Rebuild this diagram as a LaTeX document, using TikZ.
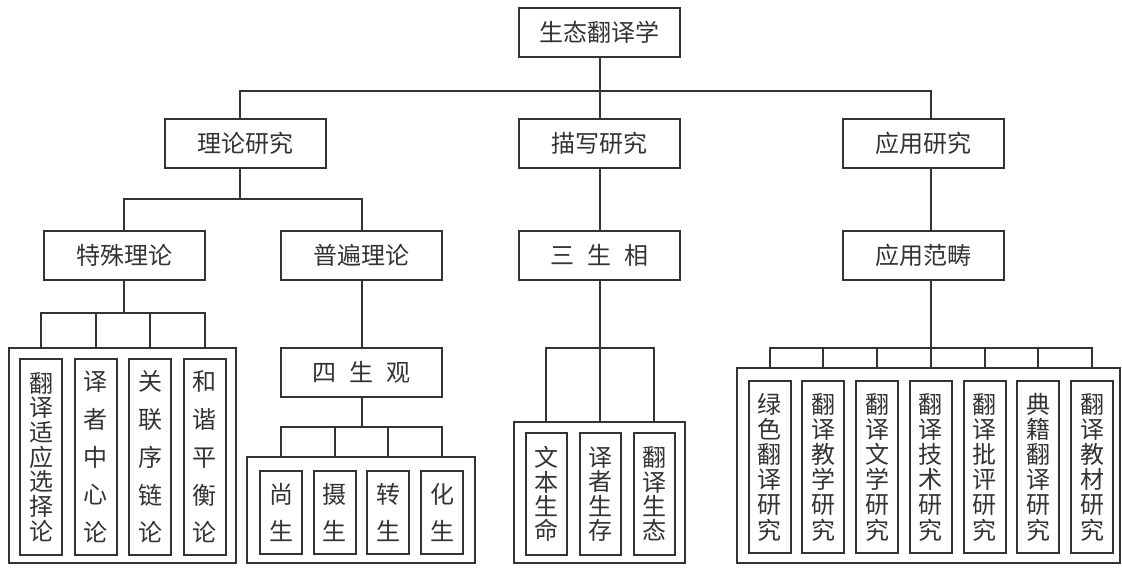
\documentclass[tikz,border=0pt]{standalone}
\usepackage{fontspec}
\newfontfamily\cjk{Noto Sans CJK SC}
\definecolor{lngray}{RGB}{51,51,51}
\usetikzlibrary{positioning}

\begin{document}
\begin{tikzpicture}[x=1pt,y=-1pt,
  hbox/.style={draw=lngray,line width=2pt,minimum width=161,minimum height=49,inner sep=0,
    text=lngray,font=\cjk\fontsize{24}{24}\selectfont},
  grp/.style={draw=lngray,line width=2pt,inner sep=0},
  vbox/.style={draw=lngray,line width=2pt,minimum width=42,inner sep=0,align=center,text=lngray},
  link/.style={draw=lngray,line width=2pt}
]
  \useasboundingbox (0,0) rectangle (1122,570);
  % top levels
  \node[hbox] (root) at (599.5,32) {生态翻译学};
  \node[hbox] (ll) at (245.5,143) {理论研究};
  \node[hbox] (mx) at (599.5,143) {描写研究};
  \node[hbox] (yy) at (923,143) {应用研究};
  \node[hbox] (ts) at (124,255) {特殊理论};
  \node[hbox] (pb) at (361.5,255) {普遍理论};
  \node[hbox] (ss) at (599.5,255) {三\hspace*{.55em}生\hspace*{.55em}相};
  \node[hbox] (fc) at (923,255) {应用范畴};
  \node[hbox] (sg) at (361.5,372.5) {四\hspace*{.55em}生\hspace*{.55em}观};
  % 特殊理论
  \node[grp,minimum width=227,minimum height=215] (tsg) at (122.5,455.5) {};
  \node[vbox,minimum height=196,font=\cjk\fontsize{24}{24.7}\selectfont] (ts1) at (41,457) {翻\\译\\适\\应\\选\\择\\论};
  \node[vbox,minimum height=196,font=\cjk\fontsize{24}{37.75}\selectfont] (ts2) at (95.5,457) {译\\者\\中\\心\\论};
  \node[vbox,minimum height=196,font=\cjk\fontsize{24}{37.75}\selectfont] (ts3) at (150,457) {关\\联\\序\\链\\论};
  \node[vbox,minimum height=196,font=\cjk\fontsize{24}{37.75}\selectfont] (ts4) at (204.5,457) {和\\谐\\平\\衡\\论};
  % 四生观
  \node[grp,minimum width=228,minimum height=106] (sgg) at (361,510) {};
  \node[vbox,minimum height=83,font=\cjk\fontsize{24}{37}\selectfont] (sg1) at (281,512.5) {尚\\生};
  \node[vbox,minimum height=83,font=\cjk\fontsize{24}{37}\selectfont] (sg2) at (334.7,512.5) {摄\\生};
  \node[vbox,minimum height=83,font=\cjk\fontsize{24}{37}\selectfont] (sg3) at (388.3,512.5) {转\\生};
  \node[vbox,minimum height=83,font=\cjk\fontsize{24}{37}\selectfont] (sg4) at (442,512.5) {化\\生};
  % 三生相
  \node[grp,minimum width=171,minimum height=141] (ssg) at (599.5,492.5) {};
  \node[vbox,minimum width=41,minimum height=122,font=\cjk\fontsize{24}{24.3}\selectfont] (ss1) at (546,494) {文\\本\\生\\命};
  \node[vbox,minimum width=41,minimum height=122,font=\cjk\fontsize{24}{24.3}\selectfont] (ss2) at (600,494) {译\\者\\生\\存};
  \node[vbox,minimum width=41,minimum height=122,font=\cjk\fontsize{24}{24.3}\selectfont] (ss3) at (654,494) {翻\\译\\生\\态};
  % 应用范畴
  \node[grp,minimum width=383,minimum height=195] (fcg) at (928.5,465.5) {};
  \node[vbox,minimum height=172,font=\cjk\fontsize{24}{25.2}\selectfont] (fc1) at (769.5,467) {绿\\色\\翻\\译\\研\\究};
  \node[vbox,minimum height=172,font=\cjk\fontsize{24}{25.2}\selectfont] (fc2) at (823.25,467) {翻\\译\\教\\学\\研\\究};
  \node[vbox,minimum height=172,font=\cjk\fontsize{24}{25.2}\selectfont] (fc3) at (877,467) {翻\\译\\文\\学\\研\\究};
  \node[vbox,minimum height=172,font=\cjk\fontsize{24}{25.2}\selectfont] (fc4) at (930.75,467) {翻\\译\\技\\术\\研\\究};
  \node[vbox,minimum height=172,font=\cjk\fontsize{24}{25.2}\selectfont] (fc5) at (984.5,467) {翻\\译\\批\\评\\研\\究};
  \node[vbox,minimum height=172,font=\cjk\fontsize{24}{25.2}\selectfont] (fc6) at (1038.25,467) {典\\籍\\翻\\译\\研\\究};
  \node[vbox,minimum height=172,font=\cjk\fontsize{24}{25.2}\selectfont] (fc7) at (1092,467) {翻\\译\\教\\材\\研\\究};
  % buses
  \coordinate (b0) at (599.5,91);
  \coordinate (b1) at (240,199);
  \coordinate (b2) at (124,313);
  \coordinate (b3) at (361.5,427);
  \coordinate (b4) at (599.5,348);
  \coordinate (b5) at (930.75,348);
  % links
  \draw[link] (root.south) -- (b0);
  \draw[link] ([xshift=-5.5pt]ll.north) |- (b0) -| ([xshift=8pt]yy.north);
  \draw[link] (b0) -- (mx.north);
  \draw[link] ([xshift=-5.5pt]ll.south) -- (b1);
  \draw[link] (ts.north) |- (b1) -| (pb.north);
  \draw[link] (mx.south) -- (ss.north);
  \draw[link] ([xshift=8pt]yy.south) -- ([xshift=8pt]fc.north);
  \draw[link] (pb.south) -- (sg.north);
  \draw[link] (ts.south) -- (b2);
  \foreach \i in {1,...,4} \draw[link] (b2) -| (ts\i.north |- tsg.north);
  \draw[link] (sg.south) -- (b3);
  \foreach \i in {1,...,4} \draw[link] (b3) -| (sg\i.north |- sgg.north);
  \draw[link] (ss.south) -- (b4);
  \foreach \i in {1,...,3} \draw[link] (b4) -| (ss\i.north |- ssg.north);
  \draw[link] ([xshift=7.75pt]fc.south) -- (b5);
  \foreach \i in {1,...,7} \draw[link] (b5) -| (fc\i.north |- fcg.north);
\end{tikzpicture}
\end{document}
